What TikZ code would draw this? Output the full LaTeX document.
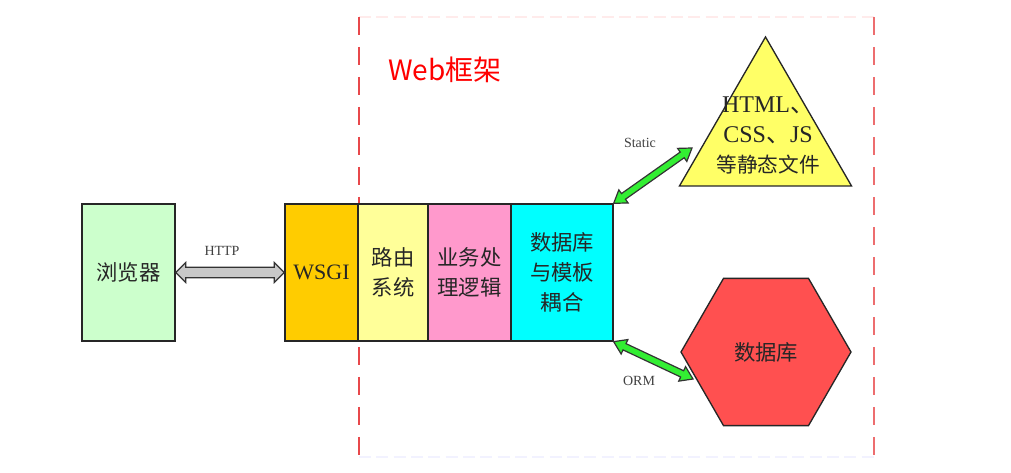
\documentclass[tikz,border=0pt]{standalone}
\usepackage{fontspec}
\setmainfont{Liberation Serif}
\newfontfamily\cjk{Noto Sans CJK SC}
\usetikzlibrary{shapes.geometric,calc}
\definecolor{boxgreen}{HTML}{CCFFCC}
\definecolor{wsgiorange}{HTML}{FFCC00}
\definecolor{routeyellow}{HTML}{FFFF99}
\definecolor{bizpink}{HTML}{FF99CC}
\definecolor{dbcyan}{HTML}{00FFFF}
\definecolor{triyellow}{HTML}{FFFF66}
\definecolor{hexred}{HTML}{FF5050}
\definecolor{arrowgreen}{HTML}{33EE33}
\definecolor{arrowgray}{HTML}{C8C8C8}
\definecolor{framered}{HTML}{E8484B}
\definecolor{txt}{HTML}{262626}
\newcommand\myfatarrow[7]{% start, end, fill, id, head length, head half width, shaft half width
  \path ($(#1)!#5!(#2)$) coordinate (#4h1) ($(#2)!#5!(#1)$) coordinate (#4h2);
  \draw[line width=0.9pt, draw=black!80, fill=#3, line join=miter]
    (#1) -- ($(#4h1)!#6!90:(#2)$) -- ($(#4h1)!#7!90:(#2)$)
    -- ($(#4h2)!#7!-90:(#1)$) -- ($(#4h2)!#6!-90:(#1)$) -- (#2)
    -- ($(#4h2)!#6!90:(#1)$) -- ($(#4h2)!#7!90:(#1)$)
    -- ($(#4h1)!#7!-90:(#2)$) -- ($(#4h1)!#6!-90:(#2)$) -- cycle;
}
\tikzset{
  blk/.style={draw=black!85, line width=1pt, minimum height=102.75pt, inner sep=0pt, text=txt, align=center},
  cjkbox/.style={font=\cjk\fontsize{16}{22.5}\selectfont},
  lbl/.style={font=\fontsize{10.5}{12}\selectfont, text=black!75, inner sep=0pt},
  framedash/.style={draw=framered, line width=1.2pt, dash pattern=on 13.5pt off 9pt},
}
\begin{document}
\begin{tikzpicture}[x=0.75pt,y=-0.75pt]
\useasboundingbox (0,0) rectangle (1011,473);
% frame
\draw[draw=red!8, line width=1pt, dash pattern=on 9pt off 4pt] (359,17) -- (874,17);
\draw[draw=blue!5, line width=1pt, dash pattern=on 9pt off 4pt] (359,457) -- (874,457);
\draw[framedash] (359,17) -- (359,460);
\draw[framedash, draw=framered!80] (874,17) -- (874,457);
\node[text=red, font=\cjk\fontsize{21}{24}\selectfont] (title) at (445,70) {Web框架};
% boxes
\node[blk, fill=boxgreen, minimum width=69.75pt, cjkbox] (browser) at (128.5,272.5) {浏览器};
\node[blk, fill=wsgiorange, minimum width=54.75pt, font=\fontsize{16.5}{20}\selectfont] (wsgi) at (321.5,272.5) {WSGI};
\node[blk, fill=routeyellow, minimum width=52.5pt, cjkbox] (route) at (393,272.5) {路由\\系统};
\node[blk, fill=bizpink, minimum width=62.25pt, cjkbox] (biz) at (469.5,272.5) {业务处\\理逻辑};
\node[blk, fill=dbcyan, minimum width=76.5pt, cjkbox] (db) at (562,272.5) {数据库\\与模板\\耦合};
% triangle
\node[regular polygon, regular polygon sides=3, minimum size=149pt, inner sep=0pt,
      draw=black!85, line width=1pt, fill=triyellow] (tri) at (765.5,136.3) {};
\node[align=center, text=txt, font=\fontsize{18}{22.5}\selectfont, inner sep=0pt] (tritext) at (768,135)
  {HTML{\cjk 、}\\CSS{\cjk 、}JS\\{\cjk\fontsize{15.5}{22.5}\selectfont 等静态文件}};
% hexagon
\node[regular polygon, regular polygon sides=6, minimum size=127.5pt, inner sep=0pt,
      draw=black!85, line width=1pt, fill=hexred, text=txt, cjkbox] (hex) at (766,352) {数据库};
% connectors
\coordinate (staticend) at (692,148);
\coordinate (ormend) at (693,379);
\myfatarrow{browser.east}{wsgi.west}{arrowgray}{http}{7.5pt}{7.5pt}{3.9pt}
\myfatarrow{db.north east}{staticend}{arrowgreen}{st}{9pt}{6pt}{2.6pt}
\myfatarrow{db.south east}{ormend}{arrowgreen}{orm}{9pt}{6pt}{2.6pt}
% labels
\node[lbl] (httplbl) at (222,251) {HTTP};
\node[lbl] (staticlbl) at (640,143) {Static};
\node[lbl] (ormlbl) at (639,381) {ORM};
\end{tikzpicture}
\end{document}
